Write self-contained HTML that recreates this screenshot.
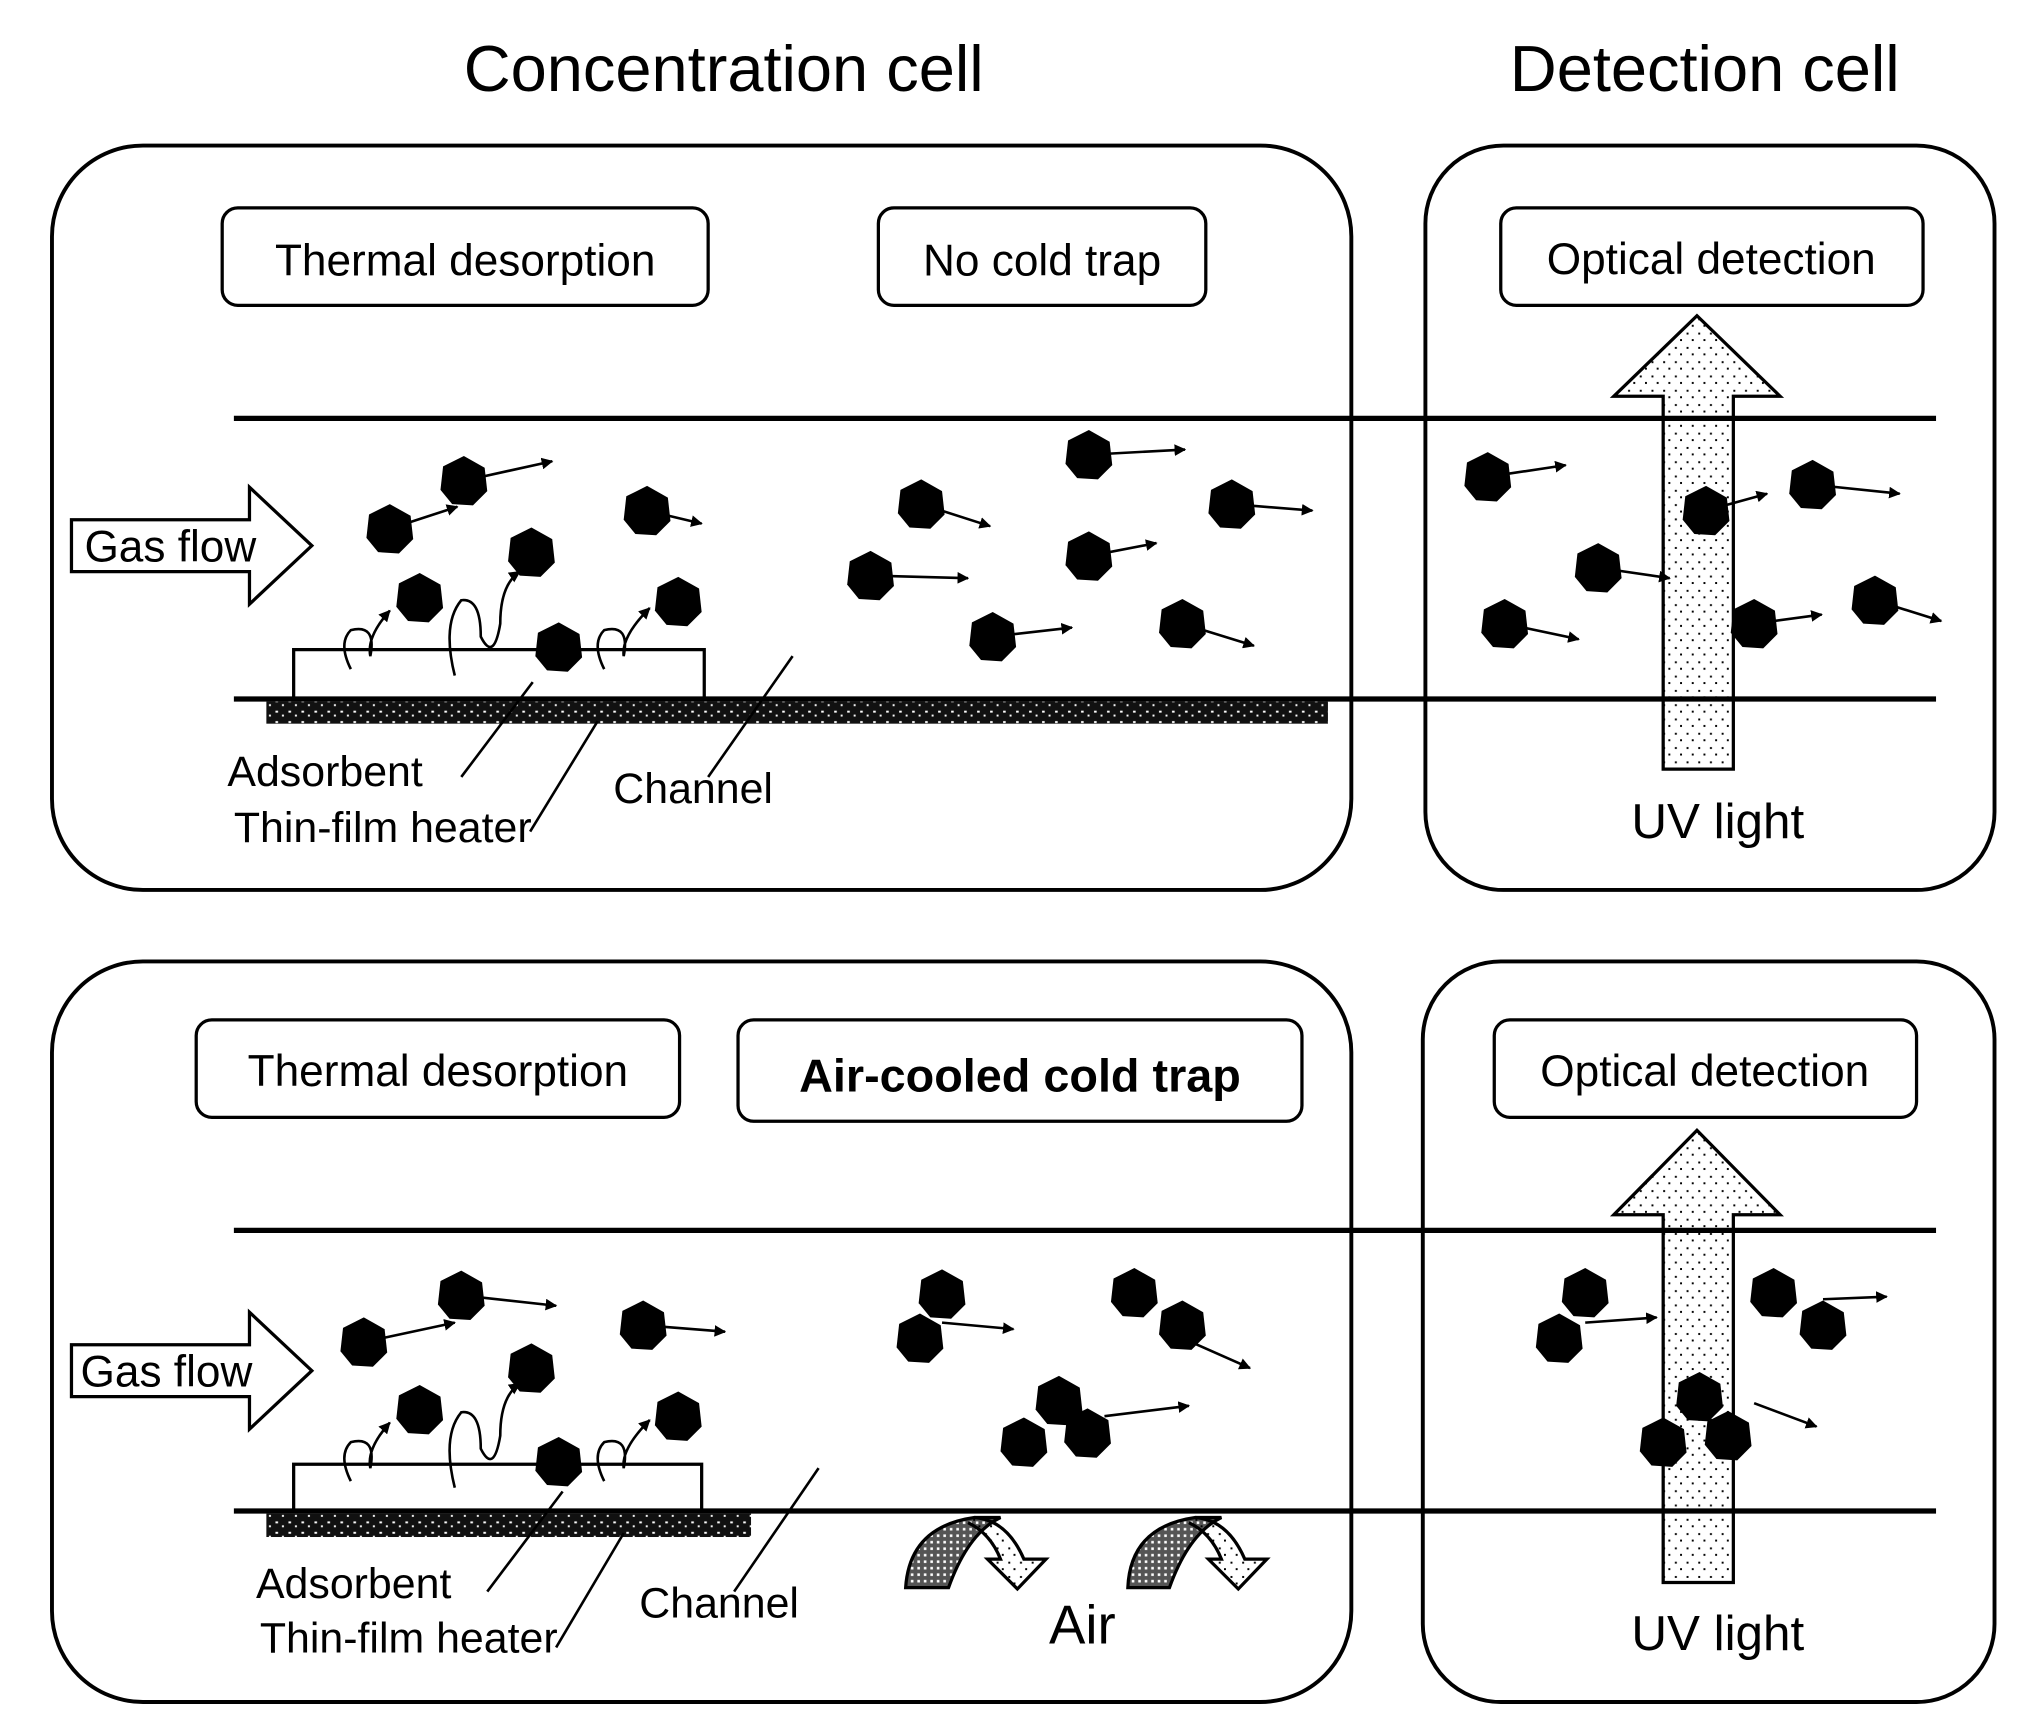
<!DOCTYPE html>
<html><head><meta charset="utf-8"><style>
html,body{margin:0;padding:0;background:#fff}
svg{display:block}
text{font-family:"Liberation Sans",sans-serif;fill:#000}
</style></head><body>
<svg width="2027" height="1715" viewBox="0 0 1560 1320" preserveAspectRatio="none" xmlns="http://www.w3.org/2000/svg">
<defs>
<polygon id="h" points="0,-19 16,-10 18,8 7,19 -9,18 -18,7 -16,-11" fill="#000"/>
<pattern id="dots" width="9" height="11" patternUnits="userSpaceOnUse"><rect x="2" y="3" width="1.5" height="1.5" fill="#000"/><rect x="6" y="8" width="1.5" height="1.5" fill="#000"/></pattern>
<pattern id="speck" width="10" height="8" patternUnits="userSpaceOnUse"><rect width="10" height="8" fill="#111"/><rect x="2" y="3" width="2" height="1.5" fill="#fff"/><rect x="7" y="6" width="1.5" height="1.5" fill="#fff"/></pattern>
<pattern id="dense" width="5" height="5" patternUnits="userSpaceOnUse"><rect width="5" height="5" fill="#555"/><rect x="1" y="1" width="2" height="2" fill="#fff"/></pattern>
<marker id="a" viewBox="0 0 10 10" refX="9" refY="5" markerWidth="9" markerHeight="9" markerUnits="userSpaceOnUse" orient="auto"><path d="M0,0L10,5L0,10z" fill="#000"/></marker>
</defs>

<text x="557" y="70" font-size="50" text-anchor="middle">Concentration cell</text>
<text x="1312" y="70" font-size="50" text-anchor="middle">Detection cell</text>

<g fill="none" stroke="#000" stroke-width="3">
<rect x="40" y="112" width="1000" height="573" rx="70"/>
<rect x="1097" y="112" width="438" height="573" rx="60"/>
<rect x="40" y="740" width="1000" height="570" rx="70"/>
<rect x="1095" y="740" width="440" height="570" rx="60"/>
</g>
<g fill="none" stroke="#000" stroke-width="2.5">
<rect x="171" y="160" width="374" height="75" rx="12"/>
<rect x="676" y="160" width="252" height="75" rx="12"/>
<rect x="1155" y="160" width="325" height="75" rx="12"/>
<rect x="151" y="785" width="372" height="75" rx="12"/>
<rect x="568" y="785" width="434" height="78" rx="12"/>
<rect x="1150" y="785" width="325" height="75" rx="12"/>
</g>
<text x="358" y="212" font-size="34" text-anchor="middle">Thermal desorption</text>
<text x="802" y="212" font-size="34" text-anchor="middle">No cold trap</text>
<text x="1317" y="211" font-size="34" text-anchor="middle">Optical detection</text>
<text x="337" y="836" font-size="34" text-anchor="middle">Thermal desorption</text>
<text x="785" y="840" font-size="36" font-weight="bold" text-anchor="middle">Air-cooled cold trap</text>
<text x="1312" y="836" font-size="34" text-anchor="middle">Optical detection</text>

<!-- TOP panel -->
<rect x="205" y="540" width="817" height="17" fill="url(#speck)"/>
<rect x="226" y="500" width="316" height="38" fill="#fff" stroke="#000" stroke-width="2.5"/>
<path d="M1280,592V305H1242L1306,243L1370,305H1334V592Z" fill="url(#dots)" stroke="#000" stroke-width="2.5"/>
<line x1="180" y1="322" x2="1490" y2="322" stroke="#000" stroke-width="4"/>
<line x1="180" y1="538" x2="1490" y2="538" stroke="#000" stroke-width="4"/>
<path d="M55,400H192V375L240,420L192,465V440H55Z" fill="#fff" stroke="#000" stroke-width="2.5"/>
<text x="65" y="432" font-size="34">Gas flow</text>
<g stroke="#000" stroke-width="2" fill="none">
<line x1="355" y1="598" x2="410" y2="525"/><line x1="408" y1="640" x2="460" y2="555"/><line x1="545" y1="598" x2="610" y2="505"/>
<path d="M270,515 Q260,495 270,485 Q290,480 285,505 Q282,490 300,470" marker-end="url(#a)"/>
<path d="M350,520 Q340,480 355,462 Q370,460 370,490 Q380,510 385,480 Q385,450 400,440" marker-end="url(#a)"/>
<path d="M465,515 Q455,495 465,485 Q485,480 480,505 Q478,490 500,468" marker-end="url(#a)"/>
</g>
<g stroke="#000" stroke-width="2" marker-end="url(#a)">
<line x1="300" y1="407" x2="352" y2="390"/><line x1="357" y1="370" x2="425" y2="355"/><line x1="498" y1="393" x2="540" y2="403"/>
<line x1="709" y1="388" x2="762" y2="405"/><line x1="838" y1="350" x2="912" y2="346"/><line x1="948" y1="388" x2="1010" y2="393"/>
<line x1="838" y1="428" x2="890" y2="418"/><line x1="670" y1="443" x2="745" y2="445"/><line x1="764" y1="490" x2="825" y2="483"/>
<line x1="910" y1="480" x2="965" y2="497"/><line x1="1145" y1="367" x2="1205" y2="358"/><line x1="1313" y1="393" x2="1360" y2="380"/>
<line x1="1395" y1="373" x2="1462" y2="380"/><line x1="1230" y1="437" x2="1285" y2="445"/><line x1="1158" y1="480" x2="1215" y2="492"/>
<line x1="1350" y1="480" x2="1402" y2="473"/><line x1="1443" y1="462" x2="1494" y2="478"/>
</g>
<g>
<use href="#h" x="300" y="407"/><use href="#h" x="357" y="370"/><use href="#h" x="409" y="425"/><use href="#h" x="323" y="460"/>
<use href="#h" x="430" y="498"/><use href="#h" x="522" y="463"/><use href="#h" x="498" y="393"/><use href="#h" x="709" y="388"/>
<use href="#h" x="838" y="350"/><use href="#h" x="948" y="388"/><use href="#h" x="838" y="428"/><use href="#h" x="670" y="443"/>
<use href="#h" x="764" y="490"/><use href="#h" x="910" y="480"/><use href="#h" x="1145" y="367"/><use href="#h" x="1313" y="393"/>
<use href="#h" x="1395" y="373"/><use href="#h" x="1230" y="437"/><use href="#h" x="1158" y="480"/><use href="#h" x="1350" y="480"/>
<use href="#h" x="1443" y="462"/>
</g>
<text x="175" y="605" font-size="33">Adsorbent</text>
<text x="180" y="648" font-size="33">Thin-film heater</text>
<text x="472" y="618" font-size="33">Channel</text>
<text x="1322" y="645" font-size="38" text-anchor="middle">UV light</text>

<!-- BOTTOM panel -->
<rect x="205" y="1165" width="373" height="18" fill="url(#speck)"/>
<rect x="226" y="1127" width="314" height="36" fill="#fff" stroke="#000" stroke-width="2.5"/>
<path d="M1280,1218V935H1242L1306,870L1370,935H1334V1218Z" fill="url(#dots)" stroke="#000" stroke-width="2.5"/>
<line x1="180" y1="947" x2="1490" y2="947" stroke="#000" stroke-width="4"/>
<line x1="180" y1="1163" x2="1490" y2="1163" stroke="#000" stroke-width="4"/>
<path d="M55,1035H192V1010L240,1055L192,1100V1075H55Z" fill="#fff" stroke="#000" stroke-width="2.5"/>
<text x="62" y="1067" font-size="34">Gas flow</text>
<g stroke="#000" stroke-width="2" fill="none">
<line x1="375" y1="1225" x2="433" y2="1148"/><line x1="428" y1="1268" x2="480" y2="1180"/><line x1="565" y1="1225" x2="630" y2="1130"/>
<path d="M270,1140 Q260,1120 270,1110 Q290,1105 285,1130 Q282,1115 300,1095" marker-end="url(#a)"/>
<path d="M350,1145 Q340,1105 355,1087 Q370,1085 370,1115 Q380,1135 385,1105 Q385,1075 400,1065" marker-end="url(#a)"/>
<path d="M465,1140 Q455,1120 465,1110 Q485,1105 480,1130 Q478,1115 500,1093" marker-end="url(#a)"/>
</g>
<g stroke="#000" stroke-width="2" marker-end="url(#a)">
<line x1="280" y1="1033" x2="350" y2="1018"/><line x1="355" y1="997" x2="428" y2="1005"/><line x1="495" y1="1020" x2="558" y2="1025"/>
<line x1="725" y1="1018" x2="780" y2="1023"/><line x1="910" y1="1030" x2="962" y2="1053"/><line x1="850" y1="1090" x2="915" y2="1082"/>
<line x1="1220" y1="1018" x2="1275" y2="1014"/><line x1="1403" y1="1000" x2="1452" y2="998"/><line x1="1350" y1="1080" x2="1398" y2="1098"/>
</g>
<g>
<use href="#h" x="280" y="1033"/><use href="#h" x="355" y="997"/><use href="#h" x="409" y="1053"/><use href="#h" x="323" y="1085"/>
<use href="#h" x="430" y="1125"/><use href="#h" x="522" y="1090"/><use href="#h" x="495" y="1020"/>
<use href="#h" x="725" y="996"/><use href="#h" x="708" y="1030"/><use href="#h" x="873" y="995"/><use href="#h" x="910" y="1020"/>
<use href="#h" x="815" y="1078"/><use href="#h" x="788" y="1110"/><use href="#h" x="837" y="1103"/>
<use href="#h" x="1220" y="995"/><use href="#h" x="1200" y="1030"/><use href="#h" x="1365" y="995"/><use href="#h" x="1403" y="1020"/>
<use href="#h" x="1308" y="1075"/><use href="#h" x="1280" y="1110"/><use href="#h" x="1330" y="1105"/>
</g>
<!-- air arrows -->
<g stroke="#000" stroke-width="2.5">
<path d="M697,1222 Q700,1175 750,1168 L770,1168 Q745,1180 730,1222 Z" fill="url(#dense)"/>
<path d="M750,1168 Q775,1170 788,1200 H805 L783,1223 L760,1200 H770 Q762,1180 745,1172" fill="url(#dots)"/>
<path d="M868,1222 Q870,1175 920,1168 L940,1168 Q915,1180 900,1222 Z" fill="url(#dense)"/>
<path d="M920,1168 Q945,1170 958,1200 H975 L953,1223 L930,1200 H940 Q932,1180 915,1172" fill="url(#dots)"/>
</g>
<text x="197" y="1230" font-size="33">Adsorbent</text>
<text x="200" y="1272" font-size="33">Thin-film heater</text>
<text x="492" y="1245" font-size="33">Channel</text>
<text x="833" y="1265" font-size="42" text-anchor="middle">Air</text>
<text x="1322" y="1270" font-size="38" text-anchor="middle">UV light</text>
</svg>
</body></html>
